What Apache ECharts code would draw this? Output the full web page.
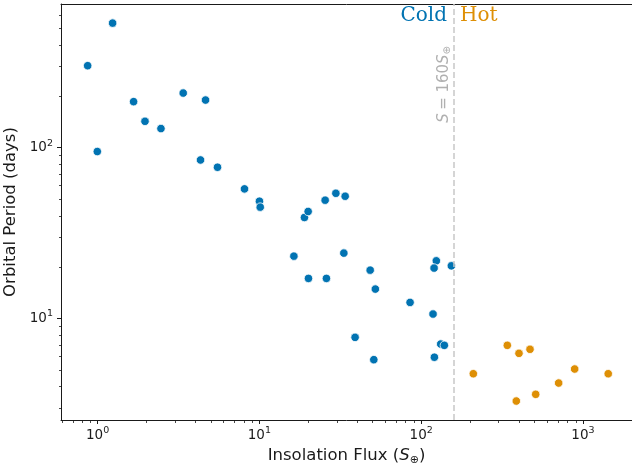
<!DOCTYPE html>
<html>
<head>
<meta charset="utf-8">
<script src="https://cdn.jsdelivr.net/npm/echarts@6/dist/echarts.min.js"></script>
<style>
  html, body { margin: 0; padding: 0; background: #fff; }
  #main { width: 632px; height: 464px; }
</style>
</head>
<body>
<div id="main"></div>
<script>
// insolation flux (S_earth) and orbital period (days)
const coldFlux = [0.868, 1.238, 0.996, 1.669, 1.963, 2.464, 3.382, 4.647, 4.327, 5.51,
    8.09, 10.01, 10.12, 18.99, 20.02, 25.5, 29.7, 33.9, 16.34, 33.27,
    20.11, 25.97, 48.4, 52.1, 85.4, 118.4, 124.1, 120.2, 153.7, 39.05,
    50.96, 120.7, 132.1, 139.1];
const coldPeriod = [301.7, 535.5, 94.8, 185.8, 142.5, 129.2, 208.6, 189.8, 84.6, 76.7,
    57.3, 48.5, 44.8, 38.96, 42.24, 49.2, 54.0, 51.9, 23.14, 24.1,
    17.14, 17.14, 19.16, 14.84, 12.4, 10.6, 21.72, 19.7, 20.3, 7.74,
    5.73, 5.92, 7.07, 6.95];
const hotFlux = [210.1, 340.8, 402.4, 470.7, 387.3, 510.4, 707.7, 888.7, 1433];
const hotPeriod = [4.74, 6.95, 6.24, 6.59, 3.28, 3.59, 4.18, 5.05, 4.74];

const fluxCut = 160;
const xRange = [0.594, 2010];
const yRange = [2.54, 693];
const minorMantissa = [2, 3, 4, 5, 6, 7, 8, 9];
const decades = [0.1, 1, 10, 100, 1000];

const BLUE = '#0173b2';
const ORANGE = '#de8f05';
const INK = '#1a1a1a';

function zip(a, b) { return a.map((v, i) => [v, b[i]]); }

function minorTicks(range) {
    const out = [];
    decades.forEach(d => minorMantissa.forEach(m => {
        const v = m * d;
        if (v >= range[0] && v <= range[1]) out.push(v);
    }));
    return out;
}

function powLabel(v) {
    const e = Math.round(Math.log10(v));
    if (Math.abs(Math.log10(v) - e) > 1e-6) return '';
    return '{b|10}{s|' + e + '}';
}

const tickRich = {
    b: { fontFamily: 'DejaVu Sans', fontSize: 13.5, color: INK },
    s: { fontFamily: 'DejaVu Sans', fontSize: 9.5, color: INK, padding: [0, 0, 9, 0] }
};

const chart = echarts.init(document.getElementById('main'), null, { renderer: 'canvas' });

const axisCommon = {
    type: 'log',
    logBase: 10,
    splitLine: { show: false },
    axisLine: { show: true, onZero: false, lineStyle: { color: INK, width: 1 } },
    axisTick: { show: true, length: 4, inside: false, lineStyle: { color: INK, width: 1 } },
    minorTick: { show: false }
};

function tickSeries(values, isX) {
    return {
        type: 'custom',
        silent: true,
        clip: false,
        z: 5,
        data: values.map(v => isX ? [v, yRange[0]] : [xRange[0], v]),
        renderItem: function (params, api) {
            const p = api.coord([api.value(0), api.value(1)]);
            const x = Math.round(p[0]) + 0.5;
            const y = Math.round(p[1]) + 0.5;
            return {
                type: 'line',
                shape: isX ? { x1: x, y1: y, x2: x, y2: y + 2.5 } : { x1: x, y1: y, x2: x - 2.5, y2: y },
                style: { stroke: INK, lineWidth: 0.8 }
            };
        }
    };
}

chart.setOption({
    animation: false,
    backgroundColor: '#fff',
    grid: { left: 61, right: 0, top: 4, bottom: 44, containLabel: false, outerBoundsMode: 'none' },
    xAxis: [
        Object.assign({}, axisCommon, {
            min: xRange[0], max: xRange[1],
            position: 'bottom',
            axisLabel: { margin: 6, formatter: powLabel, rich: tickRich, showMinLabel: false, showMaxLabel: false },
            name: '{n|Insolation Flux (}{i|S}{sub|⊕}{n|)}',
            nameLocation: 'middle',
            nameGap: 22,
            nameTextStyle: {
                rich: {
                    n: { fontFamily: 'DejaVu Sans', fontSize: 16.5, color: INK },
                    i: { fontFamily: 'DejaVu Sans', fontStyle: 'italic', fontSize: 16.5, color: INK },
                    sub: { fontFamily: 'DejaVu Sans', fontSize: 11, color: INK, padding: [8, 0, 0, 0] }
                }
            }
        }),
        Object.assign({}, axisCommon, {
            min: xRange[0], max: xRange[1],
            position: 'top',
            axisTick: { show: false },
            axisLabel: { show: false }
        })
    ],
    yAxis: Object.assign({}, axisCommon, {
        min: yRange[0], max: yRange[1],
        axisLabel: { margin: 8, formatter: powLabel, rich: tickRich, showMinLabel: false, showMaxLabel: false },
        name: 'Orbital Period (days)',
        nameLocation: 'middle',
        nameGap: 34,
        nameTextStyle: { fontFamily: 'DejaVu Sans', fontSize: 16.5, color: INK }
    }),
    series: [
        {
            name: 'Cold',
            type: 'scatter',
            symbolSize: 8.5,
            itemStyle: { color: BLUE, borderColor: '#fff', borderWidth: 0.8, opacity: 1 },
            data: zip(coldFlux, coldPeriod),
            z: 3,
            markLine: {
                silent: true,
                symbol: ['none', 'none'],
                animation: false,
                lineStyle: { color: '#c8c8c8', type: [6, 3], width: 1.5 },
                label: {
                    show: true,
                    position: 'insideEndTop',
                    distance: [42, 2],
                    formatter: '{i|S} {t|= 160}{i|S}{sub|⊕}',
                    rich: {
                        i: { fontFamily: 'DejaVu Sans', fontStyle: 'italic', fontSize: 15, color: '#b0b0b0' },
                        t: { fontFamily: 'DejaVu Sans', fontSize: 15, color: '#b0b0b0' },
                        sub: { fontFamily: 'DejaVu Sans', fontSize: 10, color: '#b0b0b0', padding: [7, 0, 0, 0] }
                    }
                },
                data: [{ xAxis: fluxCut }]
            }
        },
        {
            name: 'Hot',
            type: 'scatter',
            symbolSize: 8.5,
            itemStyle: { color: ORANGE, borderColor: '#fff', borderWidth: 0.8, opacity: 1 },
            data: zip(hotFlux, hotPeriod),
            z: 3
        },
        tickSeries(minorTicks(xRange), true),
        tickSeries(minorTicks(yRange), false)
    ],
    graphic: [
        {
            type: 'text', right: 632 - 447, top: 6,
            style: { text: 'Cold', fill: BLUE, font: '20px "DejaVu Serif"' }
        },
        {
            type: 'text', left: 460, top: 6,
            style: { text: 'Hot', fill: ORANGE, font: '20px "DejaVu Serif"' }
        }
    ]
});
</script>
</body>
</html>
